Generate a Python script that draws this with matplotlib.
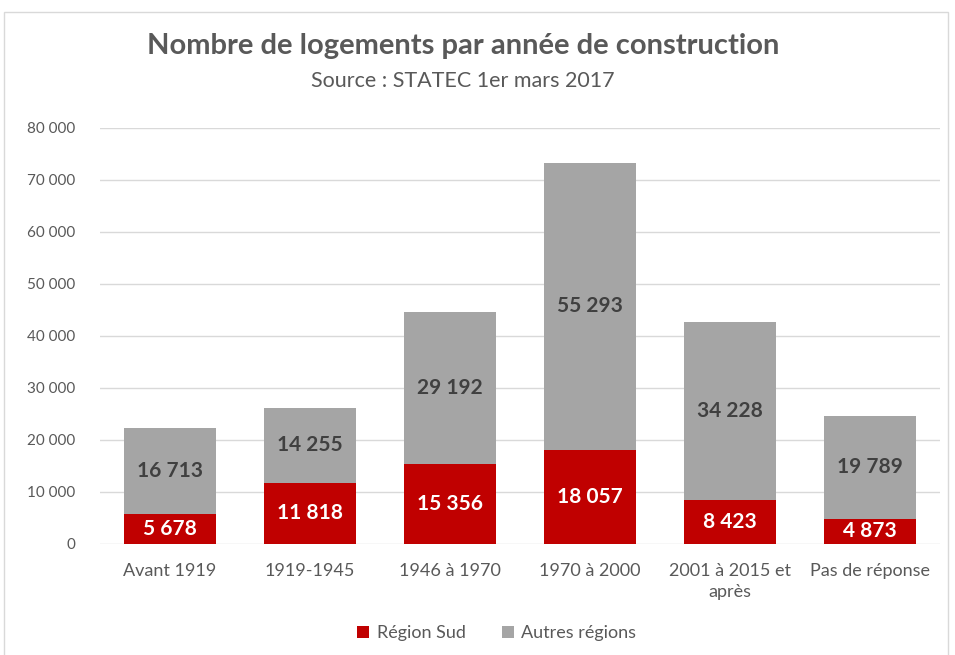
import numpy as np
import matplotlib.pyplot as plt
from matplotlib.patches import Rectangle
from matplotlib.ticker import FuncFormatter

categories = ['Avant 1919', '1919-1945', '1946 à 1970', '1970 à 2000',
              '2001 à 2015 et\naprès', 'Pas de réponse']
region_sud = [5678, 11818, 15356, 18057, 8423, 4873]
autres = [16713, 14255, 29192, 55293, 34228, 19789]

RED = '#C00000'
GREY = '#A5A5A5'
TXT = '#595959'

plt.rcParams['font.family'] = ['Lato', 'DejaVu Sans']


def fmt(v):
    return '{:,}'.format(int(v)).replace(',', ' ')


fig = plt.figure(figsize=(9.55, 6.55), dpi=100)
ax = fig.add_axes([0.1047, 0.1695, 0.984 - 0.1047, 0.8046 - 0.1695])

x = np.arange(len(categories))
b1 = ax.bar(x, region_sud, width=0.66, color=RED, label='Région Sud', zorder=3)
b2 = ax.bar(x, autres, width=0.66, bottom=region_sud, color=GREY,
            label='Autres régions', zorder=3)

for rect, v in zip(b1, region_sud):
    ax.text(rect.get_x() + rect.get_width() / 2, v / 2, fmt(v), ha='center',
            va='center', color='white', fontsize=15, fontweight='bold', zorder=4)
for rect, v, b in zip(b2, autres, region_sud):
    ax.text(rect.get_x() + rect.get_width() / 2, b + v / 2, fmt(v), ha='center',
            va='center', color='#404040', fontsize=15, fontweight='bold', zorder=4)

ax.set_xlim(-0.5, len(categories) - 0.5)
ax.set_ylim(0, 80000)
ax.set_yticks(np.arange(0, 80001, 10000))
ax.yaxis.set_major_formatter(FuncFormatter(lambda v, p: fmt(v)))
ax.set_xticks(x)
ax.set_xticklabels(categories, linespacing=1.35)
ax.tick_params(axis='both', length=0, colors=TXT)
ax.tick_params(axis='x', pad=14, labelsize=13)
ax.tick_params(axis='y', pad=18, labelsize=11)
ax.grid(axis='y', color='#D9D9D9', linewidth=1, zorder=0)
for s in ax.spines.values():
    s.set_visible(False)

fig.text(0.485, 0.93, 'Nombre de logements par année de construction',
         ha='center', va='center', fontsize=21, fontweight='bold', color=TXT)
fig.text(0.485, 0.877, 'Source : STATEC 1er mars 2017', ha='center',
         va='center', fontsize=15.5, color=TXT)

fig.legend(loc='center', bbox_to_anchor=(0.52, 0.033), ncol=2, frameon=False,
           fontsize=13, handlelength=0.7, handleheight=0.7, columnspacing=2,
           handletextpad=0.4, labelcolor=TXT)

fig.patches.append(Rectangle((4 / 955, -0.01), 944 / 955, 1 - 12 / 655 + 0.01,
                             transform=fig.transFigure, fill=False,
                             edgecolor='#D9D9D9', linewidth=1))

fig.savefig('out.png', dpi=100)
